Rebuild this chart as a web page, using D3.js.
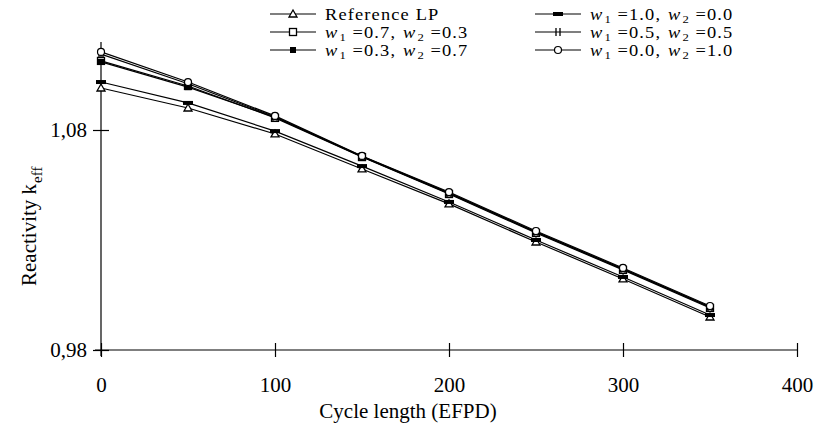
<!DOCTYPE html>
<html>
<head>
<style>
  body {
    margin: 0;
    background-color: #ffffff;
  }
  svg text {
    font-family: "Liberation Serif", "Times New Roman", serif;
    fill: #000;
    white-space: pre;
  }
</style>
<script src="https://d3js.org/d3.v7.min.js"></script>
</head>
<body>
<script>
// cycle length (EFPD) and keff for each weighting
const days = [0, 50, 100, 150, 200, 250, 300, 350];
const refLP = [1.0991, 1.0900, 1.0782, 1.0623, 1.0464, 1.0291, 1.0123, 0.9950];
const w10 = [1.1018, 1.0923, 1.0795, 1.0636, 1.0473, 1.0300, 1.0132, 0.9959];
const w07 = [1.1114, 1.1000, 1.0855, 1.0677, 1.0509, 1.0332, 1.0164, 0.9991];
const w05 = [1.1145, 1.1010, 1.0860, 1.0680, 1.0514, 1.0337, 1.0169, 0.9996];
const w03 = [1.1110, 1.0995, 1.0858, 1.0679, 1.0512, 1.0335, 1.0167, 0.9994];
const w00 = [1.1155, 1.1018, 1.0864, 1.0682, 1.0518, 1.0341, 1.0173, 1.0000];
const xTicks = [0, 100, 200, 300, 400];
const yTicks = [0.98, 1.08];

const series = [
  { name: 'Reference LP', values: refLP, marker: 'triangle' },
  { name: ['1.0', '0.0'], values: w10, marker: 'dash' },
  { name: ['0.7', '0.3'], values: w07, marker: 'square' },
  { name: ['0.5', '0.5'], values: w05, marker: 'star' },
  { name: ['0.3', '0.7'], values: w03, marker: 'filled' },
  { name: ['0.0', '1.0'], values: w00, marker: 'circle' },
];

const width = 816, height = 436;
const fontSize = 21;
const legendSize = 16;
const legendStretch = 1.15;

const svg = d3.select('body')
  .append('svg')
  .attr('width', width)
  .attr('height', height);

const x = d3.scaleLinear().domain([0, 400]).range([101, 797]);
const y = d3.scaleLinear().domain([0.98, 1.12]).range([350, 42]);

const comma = d3.formatLocale({ decimal: ',', thousands: '.', grouping: [3], currency: ['', ''] });

// x axis
const xAxis = svg.append('g')
  .attr('transform', `translate(0,${y(0.98)})`)
  .call(d3.axisBottom(x).tickValues(xTicks).tickSize(7).tickPadding(20).tickSizeOuter(0));
xAxis.select('.domain').attr('d', `M95,0H797`);
xAxis.selectAll('.tick line').attr('y1', -7);
xAxis.selectAll('.tick text').attr('font-size', fontSize);

// y axis
const yAxis = svg.append('g')
  .attr('transform', `translate(${x(0)},0)`)
  .call(d3.axisLeft(y).tickValues(yTicks).tickFormat(comma.format('.2f')).tickSize(8).tickPadding(6).tickSizeOuter(0));
yAxis.select('.domain').attr('d', `M0,${y(1.12)}V${y(0.98) + 6}`);
yAxis.selectAll('.tick line').attr('x2', 8).attr('x1', -8);
yAxis.selectAll('.tick text').attr('font-size', fontSize);
svg.selectAll('.domain, .tick line').attr('stroke', '#000').attr('stroke-width', 1.2);

// axis titles
svg.append('text')
  .attr('x', 408)
  .attr('y', 418)
  .attr('text-anchor', 'middle')
  .attr('font-size', fontSize)
  .text('Cycle length (EFPD)');

const yTitle = svg.append('g').attr('transform', 'translate(36,216) rotate(-90)');
const yMain = yTitle.append('text')
  .attr('x', -70)
  .attr('font-size', fontSize)
  .text('Reactivity k');
yTitle.append('text')
  .attr('x', -70 + yMain.node().getComputedTextLength() + 1)
  .attr('y', 6)
  .attr('font-size', 15)
  .text('eff');

// markers
const drawMarker = (g, type, cx, cy) => {
  if (type === 'triangle') {
    g.append('path').attr('d', `M${cx},${cy - 4}L${cx + 4},${cy + 3}L${cx - 4},${cy + 3}Z`)
      .attr('fill', '#fff').attr('stroke', '#000').attr('stroke-width', 1.3);
  } else if (type === 'square') {
    g.append('rect').attr('x', cx - 3.5).attr('y', cy - 3.5).attr('width', 7).attr('height', 7)
      .attr('fill', '#fff').attr('stroke', '#000').attr('stroke-width', 1.3);
  } else if (type === 'filled') {
    g.append('rect').attr('x', cx - 3).attr('y', cy - 3).attr('width', 6).attr('height', 6)
      .attr('fill', '#000');
  } else if (type === 'circle') {
    g.append('circle').attr('cx', cx).attr('cy', cy).attr('r', 3.5)
      .attr('fill', '#fff').attr('stroke', '#000').attr('stroke-width', 1.2);
  } else if (type === 'dash') {
    g.append('rect').attr('x', cx - 5).attr('y', cy - 2).attr('width', 10).attr('height', 4)
      .attr('fill', '#000');
  } else if (type === 'star') {
    g.append('path').attr('d', `M${cx - 2},${cy - 4}V${cy + 4}M${cx + 2},${cy - 4}V${cy + 4}`)
      .attr('stroke', '#000').attr('stroke-width', 1.3);
  }
};

const line = d3.line()
  .x((d, i) => x(days[i]))
  .y(d => y(d));

const plot = svg.append('g');
series.forEach(s => {
  plot.append('path')
    .datum(s.values)
    .attr('fill', 'none')
    .attr('stroke', '#000')
    .attr('stroke-width', 1.2)
    .attr('d', line);
});
series.forEach(s => {
  s.values.forEach((v, i) => drawMarker(plot, s.marker, x(days[i]), y(v)));
});

// legend text pieces are laid out one after another so subscripts sit low;
// the old bitmap font is wide, so each piece is stretched a little
const writeRun = (g, x0, base, pieces) => {
  let cx = x0;
  pieces.forEach(p => {
    const t = g.append('text')
      .attr('transform', `translate(${cx},${base + (p.sub ? 3 : 0)}) scale(${legendStretch},1)`)
      .attr('font-size', p.sub ? 11 : legendSize)
      .attr('letter-spacing', p.sub ? null : 1)
      .attr('font-style', p.italic ? 'italic' : null)
      .text(p.text);
    cx += t.node().getComputedTextLength() * legendStretch + 1;
  });
};

const legendOrder = [series[0], series[2], series[4], series[1], series[3], series[5]];
const legend = svg.append('g');
legendOrder.forEach((s, i) => {
  const col = Math.floor(i / 3);
  const row = i % 3;
  const lx = col === 0 ? 270 : 535;
  const ly = 14 + row * 18;
  legend.append('line')
    .attr('x1', lx).attr('x2', lx + 46)
    .attr('y1', ly).attr('y2', ly)
    .attr('stroke', '#000').attr('stroke-width', 1.2);
  drawMarker(legend, s.marker, lx + 23, ly);
  if (typeof s.name === 'string') {
    writeRun(legend, lx + 55, ly + 6, [{ text: s.name }]);
  } else {
    writeRun(legend, lx + 55, ly + 6, [
      { text: 'w', italic: true },
      { text: '1', sub: true },
      { text: ` =${s.name[0]}, ` },
      { text: 'w', italic: true },
      { text: '2', sub: true },
      { text: ` =${s.name[1]}` },
    ]);
  }
});
</script>
</body>
</html>
